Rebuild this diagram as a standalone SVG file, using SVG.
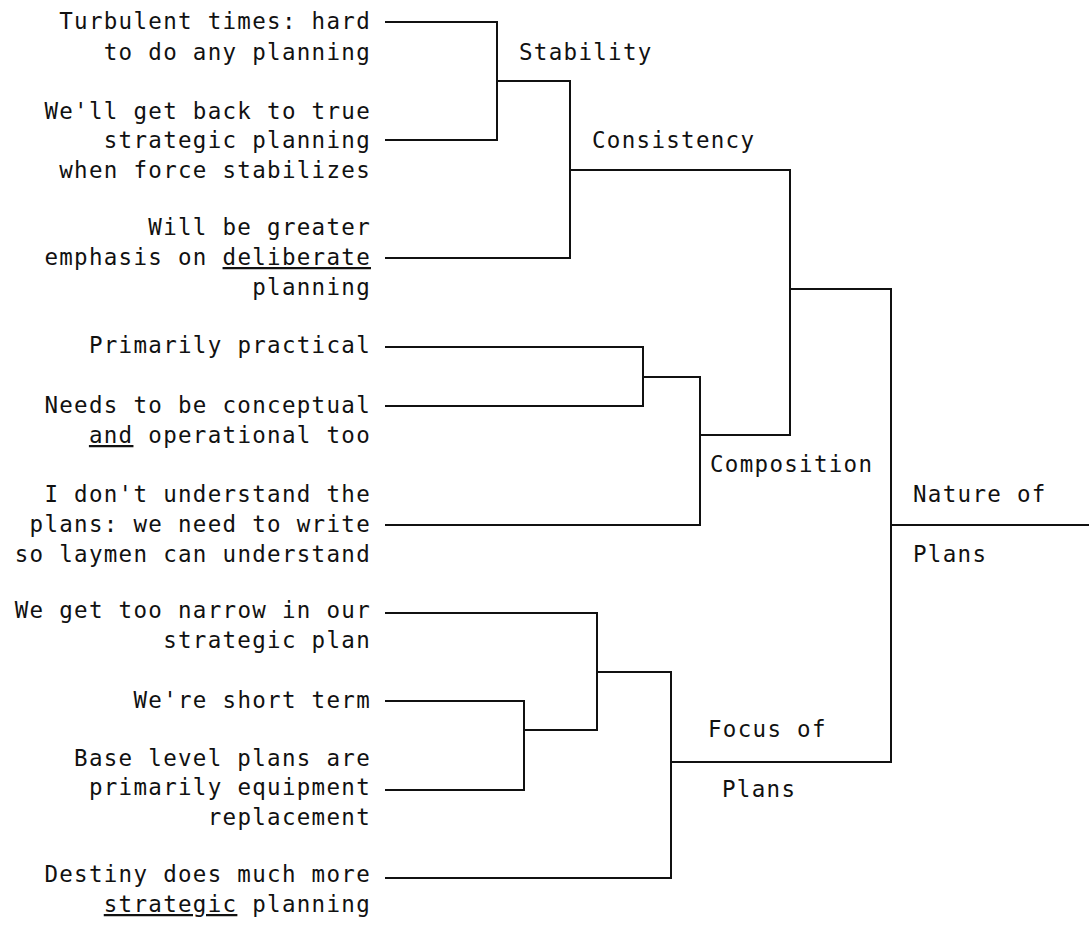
<svg xmlns="http://www.w3.org/2000/svg" width="1089" height="926" viewBox="0 0 1089 926">
  <style>
    text { font-family: "DejaVu Sans Mono", "Liberation Mono", monospace; font-size: 22.5px; letter-spacing: 1.3px; fill: #111; }
    .leaf text { text-anchor: end; }
    .u { text-decoration: underline; }
    .wire { fill: none; stroke: #111; stroke-width: 2; stroke-linecap: square; stroke-linejoin: miter; }
  </style>
  <rect width="1089" height="926" fill="#fff"/>

  <!-- tree branches -->
  <g id="connectors">
    <!-- Stability -->
    <path class="wire" d="M386,22 H497 V140 H386"/>
    <path class="wire" d="M497,81 H570"/>
    <!-- Consistency -->
    <path class="wire" d="M386,258 H570 V81"/>
    <path class="wire" d="M570,170 H790 V435"/>
    <!-- Composition -->
    <path class="wire" d="M386,347 H643 V406 H386"/>
    <path class="wire" d="M643,377 H700"/>
    <path class="wire" d="M386,525 H700 V377"/>
    <path class="wire" d="M700,435 H790"/>
    <!-- Focus of Plans -->
    <path class="wire" d="M386,613 H597 V730"/>
    <path class="wire" d="M386,701 H524 V790 H386"/>
    <path class="wire" d="M524,730 H597"/>
    <path class="wire" d="M597,672 H671"/>
    <path class="wire" d="M386,878 H671 V672"/>
    <path class="wire" d="M671,762 H891"/>
    <!-- Nature of Plans -->
    <path class="wire" d="M790,289 H891 V762"/>
    <path class="wire" d="M891,525 H1089"/>
  </g>

  <!-- statements -->
  <g id="leaf-1" class="leaf">
    <text x="371" y="29">Turbulent times: hard</text>
    <text x="371" y="60">to do any planning</text>
  </g>
  <g id="leaf-2" class="leaf">
    <text x="371" y="119">We'll get back to true</text>
    <text x="371" y="148">strategic planning</text>
    <text x="371" y="178">when force stabilizes</text>
  </g>
  <g id="leaf-3" class="leaf">
    <text x="371" y="235">Will be greater</text>
    <text x="371" y="265">emphasis on <tspan class="u">deliberate</tspan></text>
    <text x="371" y="295">planning</text>
  </g>
  <g id="leaf-4" class="leaf">
    <text x="371" y="353">Primarily practical</text>
  </g>
  <g id="leaf-5" class="leaf">
    <text x="371" y="413">Needs to be conceptual</text>
    <text x="371" y="443"><tspan class="u">and</tspan> operational too</text>
  </g>
  <g id="leaf-6" class="leaf">
    <text x="371" y="502">I don't understand the</text>
    <text x="371" y="532">plans: we need to write</text>
    <text x="371" y="562">so laymen can understand</text>
  </g>
  <g id="leaf-7" class="leaf">
    <text x="371" y="618">We get too narrow in our</text>
    <text x="371" y="648">strategic plan</text>
  </g>
  <g id="leaf-8" class="leaf">
    <text x="371" y="708">We're short term</text>
  </g>
  <g id="leaf-9" class="leaf">
    <text x="371" y="766">Base level plans are</text>
    <text x="371" y="795">primarily equipment</text>
    <text x="371" y="825">replacement</text>
  </g>
  <g id="leaf-10" class="leaf">
    <text x="371" y="882">Destiny does much more</text>
    <text x="371" y="912"><tspan class="u">strategic</tspan> planning</text>
  </g>

  <!-- cluster labels -->
  <g id="stability"><text x="519" y="60">Stability</text></g>
  <g id="consistency"><text x="592" y="148">Consistency</text></g>
  <g id="composition"><text x="710" y="472">Composition</text></g>
  <g id="focus-of-plans">
    <text x="708" y="737">Focus of</text>
    <text x="722" y="797">Plans</text>
  </g>
  <g id="nature-of-plans">
    <text x="913" y="502">Nature of</text>
    <text x="913" y="562">Plans</text>
  </g>
</svg>
